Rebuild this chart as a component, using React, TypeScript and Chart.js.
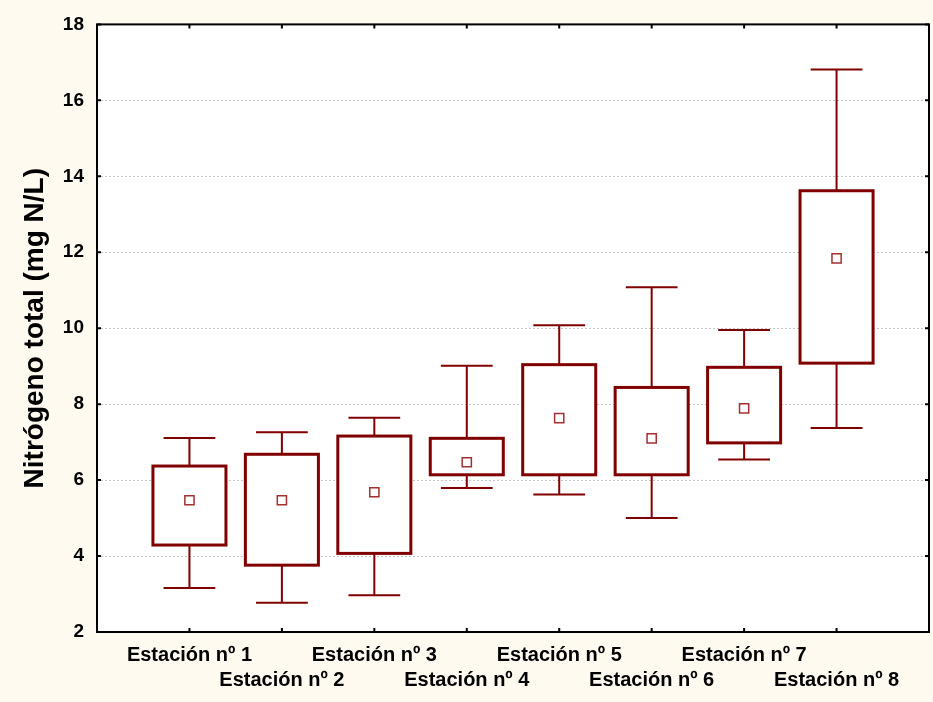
import React, { useEffect, useRef } from "react";
import { Chart, registerables } from "chart.js";

Chart.register(...registerables);

const categories = [
  "Estación nº 1",
  "Estación nº 2",
  "Estación nº 3",
  "Estación nº 4",
  "Estación nº 5",
  "Estación nº 6",
  "Estación nº 7",
  "Estación nº 8",
];
const whiskerMin = [3.16, 2.77, 2.97, 5.79, 5.62, 5.0, 6.54, 7.37];
const boxLow = [4.29, 3.76, 4.07, 6.14, 6.14, 6.14, 6.98, 9.08];
const boxHigh = [6.37, 6.68, 7.16, 7.1, 9.04, 8.44, 8.97, 13.62];
const whiskerMax = [7.11, 7.26, 7.64, 9.01, 10.08, 11.08, 9.95, 16.81];
const means = [5.47, 5.47, 5.68, 6.47, 7.63, 7.1, 7.89, 11.84];
const yTicks = [2, 4, 6, 8, 10, 12, 14, 16, 18];
const yTitle = "Nitrógeno total (mg N/L)";

const MAROON = "#800000";
const FONT = "'Liberation Sans', Arial, Helvetica, sans-serif";

const boxPlugin = {
  id: "boxPlugin",
  beforeDraw(chart: any) {
    const { ctx, chartArea, width, height } = chart;
    ctx.save();
    ctx.fillStyle = "#FFFAF0";
    ctx.fillRect(0, 0, width, height);
    ctx.fillStyle = "#FFFFFF";
    ctx.fillRect(chartArea.left, chartArea.top, chartArea.right - chartArea.left, chartArea.bottom - chartArea.top);
    ctx.restore();
  },
  beforeDatasetsDraw(chart: any) {
    const { ctx, chartArea, scales } = chart;
    const xs = scales.x;
    const ys = scales.y;
    ctx.save();
    ctx.strokeStyle = "#c4c4c4";
    ctx.lineWidth = 1;
    ctx.setLineDash([2, 2]);
    yTicks.forEach((v) => {
      if (v === yTicks[0] || v === yTicks[yTicks.length - 1]) return;
      const py = Math.round(ys.getPixelForValue(v)) + 0.5;
      ctx.beginPath();
      ctx.moveTo(chartArea.left, py);
      ctx.lineTo(chartArea.right, py);
      ctx.stroke();
    });
    ctx.setLineDash([]);

    const step = xs.getPixelForValue(1) - xs.getPixelForValue(0);
    const boxHalf = step * 0.395;
    const capHalf = step * 0.28;
    categories.forEach((_, i) => {
      const cx = xs.getPixelForValue(i + 1);
      const yMin = ys.getPixelForValue(whiskerMin[i]);
      const yMax = ys.getPixelForValue(whiskerMax[i]);
      const yLo = ys.getPixelForValue(boxLow[i]);
      const yHi = ys.getPixelForValue(boxHigh[i]);
      ctx.strokeStyle = MAROON;
      ctx.lineWidth = 2;
      ctx.beginPath();
      ctx.moveTo(cx, yMax);
      ctx.lineTo(cx, yHi);
      ctx.moveTo(cx, yLo);
      ctx.lineTo(cx, yMin);
      ctx.moveTo(cx - capHalf, yMax);
      ctx.lineTo(cx + capHalf, yMax);
      ctx.moveTo(cx - capHalf, yMin);
      ctx.lineTo(cx + capHalf, yMin);
      ctx.stroke();
      ctx.fillStyle = "#FFFFFF";
      ctx.fillRect(cx - boxHalf, yHi, boxHalf * 2, yLo - yHi);
      ctx.lineWidth = 3;
      ctx.strokeRect(cx - boxHalf, yHi, boxHalf * 2, yLo - yHi);
    });
    ctx.restore();
  },
  afterDraw(chart: any) {
    const { ctx, chartArea, scales } = chart;
    const xs = scales.x;
    const ys = scales.y;
    ctx.save();
    ctx.strokeStyle = "#000000";
    ctx.lineWidth = 2;
    ctx.strokeRect(chartArea.left, chartArea.top, chartArea.right - chartArea.left, chartArea.bottom - chartArea.top);
    const tl = 4;
    ctx.beginPath();
    categories.forEach((_, i) => {
      const px = xs.getPixelForValue(i + 1);
      ctx.moveTo(px, chartArea.bottom);
      ctx.lineTo(px, chartArea.bottom - tl);
      ctx.moveTo(px, chartArea.top);
      ctx.lineTo(px, chartArea.top + tl);
    });
    yTicks.forEach((v) => {
      const py = ys.getPixelForValue(v);
      ctx.moveTo(chartArea.left, py);
      ctx.lineTo(chartArea.left + tl, py);
      ctx.moveTo(chartArea.right, py);
      ctx.lineTo(chartArea.right - tl, py);
    });
    ctx.stroke();
    ctx.restore();
  },
};

export default function App() {
  const ref = useRef<HTMLCanvasElement | null>(null);
  useEffect(() => {
    document.body.style.margin = "0";
    if (!ref.current) return;
    const chart = new Chart(ref.current, {
      type: "scatter",
      data: {
        datasets: [
          {
            label: "Media",
            data: means.map((m, i) => ({ x: i + 1, y: m })),
            pointStyle: "rect",
            pointRadius: 6.5,
            pointHoverRadius: 6.5,
            pointBorderWidth: 1.5,
            pointBorderColor: "#a33030",
            pointBackgroundColor: "#FFFFFF",
          },
        ],
      },
      options: {
        responsive: false,
        animation: false,
        events: [],
        layout: { autoPadding: false, padding: { top: 24, right: 4, left: 0, bottom: 0 } },
        plugins: { legend: { display: false }, tooltip: { enabled: false } },
        scales: {
          x: {
            type: "linear",
            min: 0,
            max: categories.length + 1,
            grid: { display: false, drawTicks: false },
            border: { display: false },
            afterBuildTicks: (scale: any) => {
              scale.ticks = categories.map((_, i) => ({ value: i + 1 }));
            },
            afterFit: (scale: any) => {
              scale.height = 70;
              scale.paddingLeft = 0;
              scale.paddingRight = 0;
            },
            ticks: {
              autoSkip: false,
              maxRotation: 0,
              minRotation: 0,
              padding: 11,
              color: "#000000",
              font: { family: FONT, size: 20, weight: "bold", lineHeight: 1.25 },
              callback: (v: any) => {
                const i = Math.round(Number(v)) - 1;
                const lab = categories[i];
                if (!lab) return "";
                return i % 2 === 0 ? [lab, ""] : ["", lab];
              },
            },
          },
          y: {
            type: "linear",
            min: yTicks[0],
            max: yTicks[yTicks.length - 1],
            grid: { display: false, drawTicks: false },
            border: { display: false },
            afterBuildTicks: (scale: any) => {
              scale.ticks = yTicks.map((v) => ({ value: v }));
            },
            afterFit: (scale: any) => {
              scale.width = 97;
            },
            ticks: {
              padding: 13,
              color: "#000000",
              font: { family: FONT, size: 19, weight: "bold" },
            },
            title: {
              display: true,
              text: yTitle,
              color: "#000000",
              font: { family: FONT, size: 28, weight: "bold" },
              padding: { top: 18, bottom: 0 },
            },
          },
        },
      },
      plugins: [boxPlugin],
    });
    return () => chart.destroy();
  }, []);
  return (
    <div style={{ width: 933, height: 702 }}>
      <canvas ref={ref} width={933} height={702} style={{ display: "block" }} />
    </div>
  );
}
